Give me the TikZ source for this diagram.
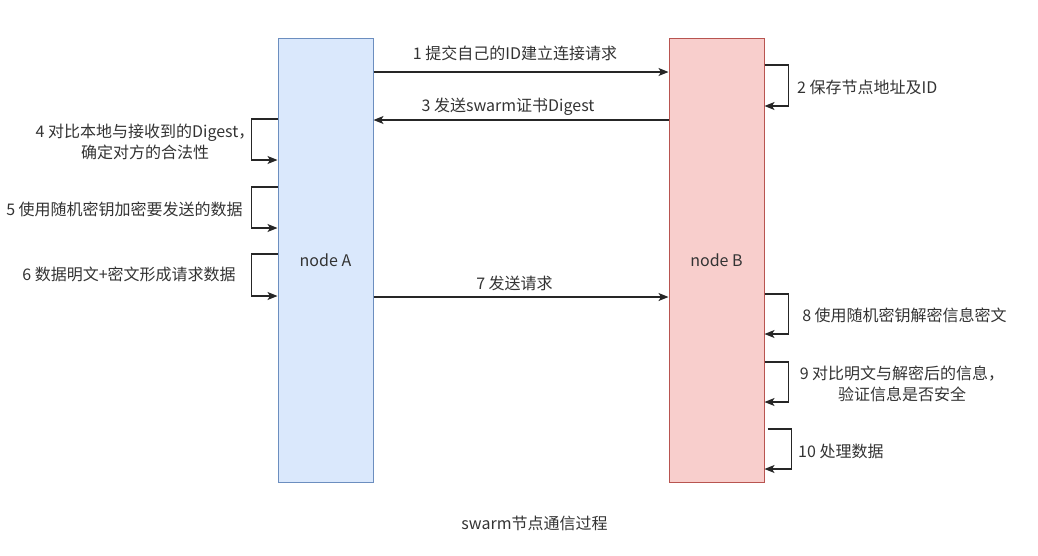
\documentclass[tikz,border=0pt]{standalone}
\usepackage{fontspec}
\setmainfont{Noto Sans CJK SC}
\usetikzlibrary{arrows.meta, positioning}

\definecolor{bluefill}{HTML}{DAE8FC}
\definecolor{blueline}{HTML}{6C8EBF}
\definecolor{redfill}{HTML}{F8CECC}
\definecolor{redline}{HTML}{B85450}

\begin{document}
\begin{tikzpicture}[x=1pt,y=-1pt,
 font=\fontsize{16}{21}\selectfont, text=black!80,
 peer/.style={draw,line width=1pt,minimum width=95pt,minimum height=444pt,inner sep=0pt},
 nodeA/.style={peer,draw=blueline,fill=bluefill},
 nodeB/.style={peer,draw=redline,fill=redfill},
 msg/.style={-{Stealth[length=10pt,width=8pt,inset=2.5pt]},line width=1.3pt,black!85},
 lbl/.style={inner sep=0pt}]

  \useasboundingbox (0,0) rectangle (1038,555);

  \node[nodeA] (A) at (325.5,260) {node A};
  \node[nodeB] (B) [right=295pt of A] {node B};

  % messages between the peers
  \draw[msg] (A.east |- 0,72) -- (B.west |- 0,72);
  \draw[msg] (B.west |- 0,120) -- (A.east |- 0,120);
  \draw[msg] (A.east |- 0,297) -- (B.west |- 0,297);

  % local steps
  \foreach \ya/\yb in {119/160, 187/228, 254/296} {
   \draw[msg] (A.west |- 0,\ya) -- ++(-26,0) |- (A.west |- 0,\yb);}
  \foreach \ya/\yb in {65/106, 294/334, 362/402} {
   \draw[msg] (B.east |- 0,\ya) -- ++(24,0) |- (B.east |- 0,\yb);}
  \draw[msg] (B.east |- 0,429) ++(3,0) -- ++(24,0) |- (B.east |- 0,469);

  \node[lbl] (l1) at (515,53) {1 提交自己的ID建立连接请求};
  \node[lbl,anchor=west] (l2) at (797,87) {2 保存节点地址及ID};
  \node[lbl] (l3) at (508,107) {3 发送swarm证书Digest};
  \node[lbl,align=center] (l4) at (145,142) {4 对比本地与接收到的Digest，\\确定对方的合法性};
  \node[lbl] (l5) at (124.5,209) {5 使用随机密钥加密要发送的数据};
  \node[lbl] (l6) at (129,274) {6 数据明文+密文形成请求数据};
  \node[lbl] (l7) at (514.5,283) {7 发送请求};
  \node[lbl] (l8) at (904.5,315) {8 使用随机密钥解密信息密文};
  \node[lbl,align=center] (l9) at (902,384) {9 对比明文与解密后的信息，\\验证信息是否安全};
  \node[lbl,anchor=west] (l10) at (798,451) {10 处理数据};
  \node[lbl] (title) at (534.5,523) {swarm节点通信过程};

\end{tikzpicture}
\end{document}
